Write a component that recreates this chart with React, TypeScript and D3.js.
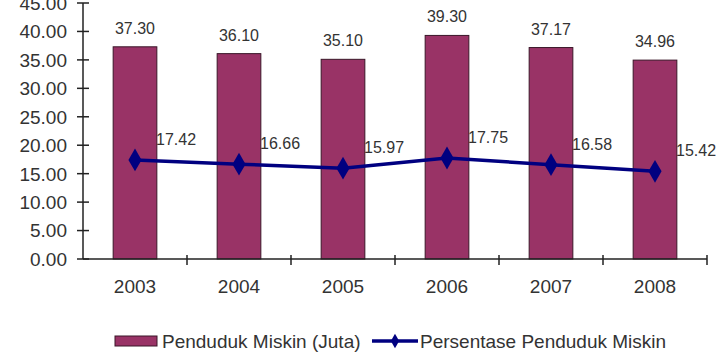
import React, { useEffect, useRef } from 'react';
import * as d3 from 'd3';

const years = ['2003', '2004', '2005', '2006', '2007', '2008'];
const pendudukMiskin = [37.30, 36.10, 35.10, 39.30, 37.17, 34.96];
const persentase = [17.42, 16.66, 15.97, 17.75, 16.58, 15.42];
const yTicks = [0, 5, 10, 15, 20, 25, 30, 35, 40, 45];

const FONT = '"Liberation Sans", Arial, sans-serif';

function PovertyChart() {
  const ref = useRef<SVGSVGElement | null>(null);

  useEffect(() => {
    if (!ref.current) return;
    const svg = d3.select(ref.current);
    svg.selectAll('*').remove();

    const margin = { top: 3, right: 12, bottom: 93, left: 83 };
    const width = 719 - margin.left - margin.right;
    const height = 352 - margin.top - margin.bottom;

    const g = svg.append('g').attr('transform', `translate(${margin.left},${margin.top})`);

    const x = d3.scaleBand().domain(years).range([0, width]).paddingInner(0.58).paddingOuter(0.29);
    const y = d3.scaleLinear().domain([0, 45]).range([height, 0]);
    const xc = (d: string) => (x(d) as number) + x.bandwidth() / 2;
    const step = x.step();

    // bars
    g.selectAll('rect.bar')
      .data(pendudukMiskin)
      .enter()
      .append('rect')
      .attr('class', 'bar')
      .attr('x', (d, i) => x(years[i]) as number)
      .attr('y', (d) => y(d))
      .attr('width', x.bandwidth())
      .attr('height', (d) => height - y(d))
      .attr('fill', '#993366')
      .attr('stroke', '#3a1628')
      .attr('stroke-width', 1);

    g.selectAll('text.barlabel')
      .data(pendudukMiskin)
      .enter()
      .append('text')
      .attr('x', (d, i) => xc(years[i]))
      .attr('y', (d) => y(d) - 13)
      .attr('text-anchor', 'middle')
      .style('font-family', FONT)
      .style('font-size', '16px')
      .attr('fill', '#333')
      .text((d) => d.toFixed(2));

    // y axis
    g.append('line').attr('x1', 0).attr('x2', 0).attr('y1', y(45)).attr('y2', height)
      .attr('stroke', '#222').attr('stroke-width', 1.5);
    yTicks.forEach((t) => {
      g.append('line').attr('x1', -6).attr('x2', 6).attr('y1', y(t)).attr('y2', y(t))
        .attr('stroke', '#222').attr('stroke-width', 1.5);
      g.append('text')
        .attr('x', -16)
        .attr('y', y(t))
        .attr('dy', '0.36em')
        .attr('text-anchor', 'end')
        .style('font-family', FONT)
        .style('font-size', '19px')
        .attr('fill', '#333')
        .text(t.toFixed(2));
    });

    // x axis
    g.append('line').attr('x1', 0).attr('x2', width).attr('y1', height).attr('y2', height)
      .attr('stroke', '#222').attr('stroke-width', 1.5);
    d3.range(1, years.length + 1).forEach((i) => {
      g.append('line').attr('x1', i * step).attr('x2', i * step).attr('y1', height - 4).attr('y2', height + 6)
        .attr('stroke', '#222').attr('stroke-width', 1.5);
    });
    g.selectAll('text.xlabel')
      .data(years)
      .enter()
      .append('text')
      .attr('x', (d) => xc(d))
      .attr('y', height + 34)
      .attr('text-anchor', 'middle')
      .style('font-family', FONT)
      .style('font-size', '19px')
      .attr('fill', '#333')
      .text((d) => d);

    // line
    const line = d3.line<number>()
      .x((d, i) => xc(years[i]))
      .y((d) => y(d));
    g.append('path')
      .datum(persentase)
      .attr('d', line)
      .attr('fill', 'none')
      .attr('stroke', '#000080')
      .attr('stroke-width', 3.5);

    const diamond = d3.symbol().type(d3.symbolDiamond).size(150);
    g.selectAll('path.marker')
      .data(persentase)
      .enter()
      .append('path')
      .attr('d', diamond)
      .attr('transform', (d, i) => `translate(${xc(years[i])},${y(d)})`)
      .attr('fill', '#000080');

    g.selectAll('text.linelabel')
      .data(persentase)
      .enter()
      .append('text')
      .attr('x', (d, i) => xc(years[i]) + 21)
      .attr('y', (d) => y(d) - 15)
      .style('font-family', FONT)
      .style('font-size', '16px')
      .attr('fill', '#333')
      .text((d) => d.toFixed(2));

    // legend
    const leg = svg.append('g').attr('transform', 'translate(0,341)');
    leg.append('rect').attr('x', 115).attr('y', -5).attr('width', 42).attr('height', 10)
      .attr('fill', '#993366').attr('stroke', '#3a1628');
    leg.append('text').attr('x', 162).attr('y', 0).attr('dy', '0.36em')
      .style('font-family', FONT).style('font-size', '19px').attr('fill', '#333')
      .text('Penduduk Miskin (Juta)');
    leg.append('line').attr('x1', 372).attr('x2', 418).attr('y1', 0).attr('y2', 0)
      .attr('stroke', '#000080').attr('stroke-width', 3.5);
    leg.append('path').attr('d', d3.symbol().type(d3.symbolDiamond).size(60))
      .attr('transform', 'translate(395,0)').attr('fill', '#000080');
    leg.append('text').attr('x', 420).attr('y', 0).attr('dy', '0.36em')
      .style('font-family', FONT).style('font-size', '19px').attr('fill', '#333')
      .text('Persentase Penduduk Miskin');
  }, []);

  return (
    <svg
      ref={ref}
      width={719}
      height={352}
      style={{ position: 'absolute', left: 0, top: 0, background: '#fff' }}
    />
  );
}

export default function App() {
  return <PovertyChart />;
}
